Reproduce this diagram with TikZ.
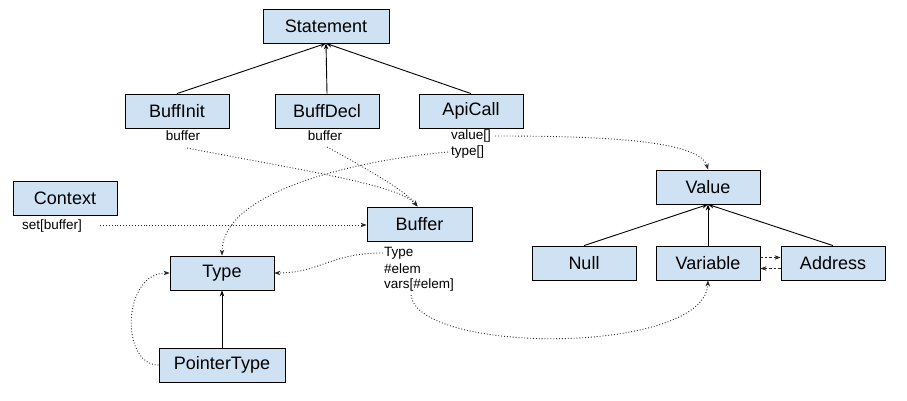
\documentclass[tikz,border=0pt]{standalone}
\usepackage{fontspec}
\setmainfont{Liberation Sans}
\usetikzlibrary{arrows.meta}
\definecolor{boxblue}{HTML}{CFE2F3}
\tikzset{
  box/.style={draw=black, fill=boxblue, line width=0.8pt, minimum width=104pt, minimum height=34pt, inner sep=0pt, font=\fontsize{18}{20}\selectfont},
  lbl/.style={inner sep=0pt, font=\fontsize{13.5}{15}\selectfont},
  solidarr/.style={draw=black, line width=0.9pt, -{Stealth[length=6pt,width=4.5pt]}},
  dotarr/.style={draw=black!85, line width=0.9pt, dotted, -{Stealth[length=6pt,width=4.5pt]}},
  dasharr/.style={draw=black!85, line width=0.8pt, dash pattern=on 2.5pt off 2pt, -{Stealth[length=6pt,width=4.5pt]}}
}
\begin{document}
\begin{tikzpicture}[x=1pt,y=-1pt]
\useasboundingbox (0,0) rectangle (907,401);
% boxes
\node[box, minimum width=126pt] (statement) at (326,26) {Statement};
\node[box] (buffinit) at (177,111) {BuffInit};
\node[box] (buffdecl) at (327,111) {BuffDecl};
\node[box] (apicall) at (471,111) {ApiCall};
\node[box] (context) at (65,198) {Context};
\node[box, minimum width=105pt] (buffer) at (419.5,224) {Buffer};
\node[box] (type) at (222,273) {Type};
\node[box, minimum width=126pt] (pointertype) at (222,365) {PointerType};
\node[box] (value) at (708,187) {Value};
\node[box] (null) at (584,263) {Null};
\node[box] (variable) at (708,263) {Variable};
\node[box] (address) at (833,263) {Address};
% labels
\node[lbl] (lbuffinit) at (183,136) {buffer};
\node[lbl] (lbuffdecl) at (325,136) {buffer};
\node[lbl, anchor=west] (lvalue) at (451,136) {value[]};
\node[lbl, anchor=west] (ltype) at (451,152) {type[]};
\node[lbl, anchor=west] (lset) at (22,226) {set[buffer]};
\node[lbl, anchor=west] (lbtype) at (384,253) {Type};
\node[lbl, anchor=west] (lbelem) at (384,269) {\#elem};
\node[lbl, anchor=west] (lbvars) at (384,285) {vars[\#elem]};
% free ends
\coordinate (sbi) at (187,148);
\coordinate (sbd) at (327,147);
\coordinate (sval) at (495,136);
\coordinate (styp) at (448,152);
\coordinate (sset) at (100,225);
\coordinate (sbt) at (383,253);
\coordinate (svars) at (411,295);
% solid inheritance arrows
\draw[solidarr] (buffinit.north) -- (statement.south);
\draw[solidarr] (buffdecl.north) -- (statement.south);
\draw[solidarr] (apicall.north) -- (statement.south);
\draw[solidarr] (null.north) -- (value.south);
\draw[solidarr] (variable.north) -- (value.south);
\draw[solidarr] (address.north) -- (value.south);
\draw[solidarr] (pointertype.north) -- (type.south);
% dotted references
\draw[dotarr] (sbi) .. controls (300,170) and (400,185) .. ([xshift=-2pt]buffer.north);
\draw[dotarr] (sbd) .. controls (360,165) and (405,190) .. ([xshift=-2pt]buffer.north);
\draw[dotarr] (sval) .. controls (600,136) and (700,140) .. (value.north);
\draw[dotarr] (styp) .. controls (360,160) and (222,190) .. (type.north);
\draw[dotarr] (sset) -- (buffer.west |- sset);
\draw[dotarr] (sbt) .. controls (330,253) and (320,273) .. (type.east);
\draw[dotarr] (svars) .. controls (418,355) and (705,355) .. (variable.south);
\draw[dotarr] (pointertype.west) .. controls (120,365) and (122,273) .. (type.west);
% dashed Variable <-> Address
\draw[dasharr] ([yshift=-5.5pt]address.west) -- ([yshift=-5.5pt]variable.east);
\draw[dasharr] ([yshift=5.5pt]variable.east) -- ([yshift=5.5pt]address.west);
\end{tikzpicture}
\end{document}
